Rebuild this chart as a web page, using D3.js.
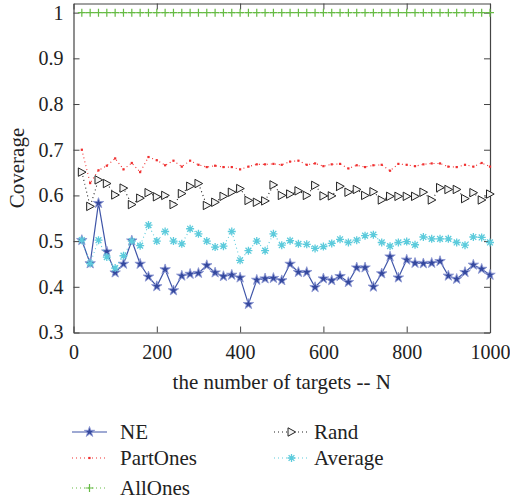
<!DOCTYPE html>
<html>
<head>
<meta charset="utf-8">
<script src="https://d3js.org/d3.v7.min.js"></script>
<style>
  body { margin: 0; background: #fff; }
  text { font-family: "Liberation Serif", "DejaVu Serif", serif; fill: #222; }
</style>
</head>
<body>
<div id="chart"></div>
<script>
// number of targets (x)
var targets = [20, 40, 60, 80, 100, 120, 140, 160, 180, 200,
  220, 240, 260, 280, 300, 320, 340, 360, 380, 400,
  420, 440, 460, 480, 500, 520, 540, 560, 580, 600,
  620, 640, 660, 680, 700, 720, 740, 760, 780, 800,
  820, 840, 860, 880, 900, 920, 940, 960, 980, 1000];

var neVals = [0.502, 0.451, 0.583, 0.477, 0.431, 0.450, 0.501, 0.450, 0.422, 0.401,
  0.438, 0.392, 0.424, 0.428, 0.430, 0.447, 0.431, 0.423, 0.426, 0.420,
  0.362, 0.415, 0.418, 0.419, 0.414, 0.450, 0.432, 0.432, 0.399, 0.418,
  0.414, 0.423, 0.410, 0.442, 0.442, 0.400, 0.429, 0.466, 0.420, 0.459,
  0.452, 0.451, 0.452, 0.456, 0.424, 0.417, 0.432, 0.448, 0.439, 0.426];

var partOnesVals = [0.700, 0.627, 0.655, 0.665, 0.681, 0.657, 0.671, 0.651, 0.684, 0.677,
  0.666, 0.676, 0.663, 0.676, 0.667, 0.662, 0.665, 0.662, 0.662, 0.657,
  0.663, 0.668, 0.668, 0.669, 0.667, 0.674, 0.676, 0.667, 0.670, 0.664,
  0.668, 0.669, 0.659, 0.666, 0.662, 0.666, 0.667, 0.654, 0.669, 0.667,
  0.664, 0.668, 0.670, 0.670, 0.663, 0.662, 0.667, 0.663, 0.671, 0.663];

var allOnesVals = [1, 1, 1, 1, 1, 1, 1, 1, 1, 1,
  1, 1, 1, 1, 1, 1, 1, 1, 1, 1,
  1, 1, 1, 1, 1, 1, 1, 1, 1, 1,
  1, 1, 1, 1, 1, 1, 1, 1, 1, 1,
  1, 1, 1, 1, 1, 1, 1, 1, 1, 1];

var randVals = [0.651, 0.576, 0.634, 0.626, 0.601, 0.616, 0.580, 0.594, 0.606, 0.597,
  0.600, 0.580, 0.604, 0.620, 0.626, 0.578, 0.585, 0.598, 0.607, 0.615,
  0.589, 0.585, 0.588, 0.623, 0.600, 0.603, 0.610, 0.600, 0.622, 0.599,
  0.599, 0.620, 0.607, 0.613, 0.600, 0.608, 0.590, 0.598, 0.598, 0.598,
  0.598, 0.607, 0.590, 0.617, 0.613, 0.613, 0.593, 0.606, 0.590, 0.603];

var averageVals = [0.502, 0.451, 0.502, 0.465, 0.441, 0.468, 0.500, 0.490, 0.535, 0.500,
  0.521, 0.500, 0.494, 0.527, 0.516, 0.500, 0.487, 0.489, 0.521, 0.458,
  0.479, 0.500, 0.479, 0.516, 0.491, 0.501, 0.494, 0.493, 0.484, 0.488,
  0.495, 0.504, 0.497, 0.502, 0.512, 0.514, 0.497, 0.489, 0.497, 0.499,
  0.492, 0.509, 0.505, 0.505, 0.505, 0.497, 0.491, 0.509, 0.508, 0.497];

var xTicks = [0, 200, 400, 600, 800, 1000];
var yTicks = [0.3, 0.4, 0.5, 0.6, 0.7, 0.8, 0.9, 1];

var series = [
  { name: "NE", values: neVals, color: "#3f55a8", dash: null, marker: "star" },
  { name: "PartOnes", values: partOnesVals, color: "#f03030", dash: "1,3", marker: "dot" },
  { name: "AllOnes", values: allOnesVals, color: "#66bb44", dash: "1,3", marker: "plus" },
  { name: "Rand", values: randVals, color: "#222", dash: "1,3", marker: "tri" },
  { name: "Average", values: averageVals, color: "#5ccbdc", dash: "1,3", marker: "aster" }
];

var W = 510, H = 502;
var margin = { top: 3.5, right: 20, bottom: 169.5, left: 73.5 };
var width = W - margin.left - margin.right,
    height = H - margin.top - margin.bottom;

var svg = d3.select("#chart").append("svg")
  .attr("width", W).attr("height", H);
var g = svg.append("g")
  .attr("transform", "translate(" + margin.left + "," + margin.top + ")");

var x = d3.scaleLinear().domain([0, 1000]).range([0, width]);
var y = d3.scaleLinear().domain([0.3, 1.02]).range([height, 0]);

// axes (ticks pointing inward, mirrored on top/right)
function styleAxis(sel) {
  sel.select(".domain").attr("stroke", "#444").attr("stroke-width", 1.2);
  sel.selectAll(".tick line").attr("stroke", "#444");
  sel.selectAll(".tick text").attr("font-size", 20)
    .attr("font-family", "'Liberation Serif', serif").attr("fill", "#222");
}
g.append("g").attr("transform", "translate(0," + height + ")")
  .call(d3.axisBottom(x).tickValues(xTicks).tickSizeInner(-6).tickSizeOuter(0).tickPadding(12)
    .tickFormat(d3.format("d")))
  .call(styleAxis);
g.append("g")
  .call(d3.axisLeft(y).tickValues(yTicks).tickSizeInner(-6).tickSizeOuter(0).tickPadding(10)
    .tickFormat(function (d) { return d === 1 ? "1" : d3.format(".1f")(d); }))
  .call(styleAxis);
g.append("g")
  .call(d3.axisTop(x).tickValues(xTicks).tickSizeInner(-6).tickSizeOuter(0).tickFormat(""))
  .call(styleAxis);
g.append("g").attr("transform", "translate(" + width + ",0)")
  .call(d3.axisRight(y).tickValues(yTicks).tickSizeInner(-6).tickSizeOuter(0).tickFormat(""))
  .call(styleAxis);

// markers
function drawMarker(sel, type, color) {
  if (type === "star") {
    sel.append("path").attr("d", d3.symbol(d3.symbolStar, 34)())
      .attr("fill", "#34489e").attr("stroke", "#8e9ad4").attr("stroke-width", 0.9);
  } else if (type === "dot") {
    sel.append("rect").attr("x", -1.1).attr("y", -1.1).attr("width", 2.2).attr("height", 2.2)
      .attr("fill", color);
  } else if (type === "plus") {
    sel.append("path").attr("d", "M-4,0H4M0,-4V4")
      .attr("stroke", color).attr("stroke-width", 1.2).attr("fill", "none");
  } else if (type === "tri") {
    sel.append("path").attr("d", "M-3.5,-4.2L4.2,0L-3.5,4.2Z")
      .attr("fill", "#f4f4f4").attr("stroke", "#222").attr("stroke-width", 1);
  } else if (type === "aster") {
    sel.append("path").attr("d", "M-4,0H4M0,-4V4M-2.9,-2.9L2.9,2.9M-2.9,2.9L2.9,-2.9")
      .attr("stroke", color).attr("stroke-width", 1.3).attr("fill", "none");
  }
}

var line = d3.line()
  .x(function (d) { return x(d[0]); })
  .y(function (d) { return y(d[1]); });

series.forEach(function (s) {
  var pts = targets.map(function (t, i) { return [t, s.values[i]]; });
  g.append("path").datum(pts)
    .attr("d", line)
    .attr("fill", "none")
    .attr("stroke", s.color)
    .attr("stroke-width", s.dash ? 1.1 : 1.2)
    .attr("stroke-dasharray", s.dash);
  g.selectAll(null).data(pts).enter().append("g")
    .attr("transform", function (d) { return "translate(" + x(d[0]) + "," + y(d[1]) + ")"; })
    .each(function () { drawMarker(d3.select(this), s.marker, s.color); });
});

// axis labels
svg.append("text")
  .attr("x", margin.left + width / 2).attr("y", 389)
  .attr("text-anchor", "middle").attr("font-size", 21)
  .text("the number of targets -- N");
svg.append("text")
  .attr("transform", "translate(24," + (margin.top + height / 2) + ") rotate(-90)")
  .attr("text-anchor", "middle").attr("font-size", 21)
  .text("Coverage");

// legend
var legendPos = [
  { x: 72, y: 432 }, { x: 72, y: 458 }, { x: 72, y: 488 },
  { x: 274, y: 432 }, { x: 274, y: 458 }
];
series.forEach(function (s, i) {
  var p = legendPos[i];
  var lg = svg.append("g").attr("transform", "translate(" + p.x + "," + p.y + ")");
  lg.append("line").attr("x1", 0).attr("x2", 35).attr("y1", 0).attr("y2", 0)
    .attr("stroke", s.color).attr("stroke-width", 1.1)
    .attr("stroke-dasharray", s.dash);
  drawMarker(lg.append("g").attr("transform", "translate(17.5,0)"), s.marker, s.color);
  lg.append("text").attr("x", i < 3 ? 48 : 40).attr("y", 6.5)
    .attr("font-size", 21).text(s.name);
});
</script>
</body>
</html>
